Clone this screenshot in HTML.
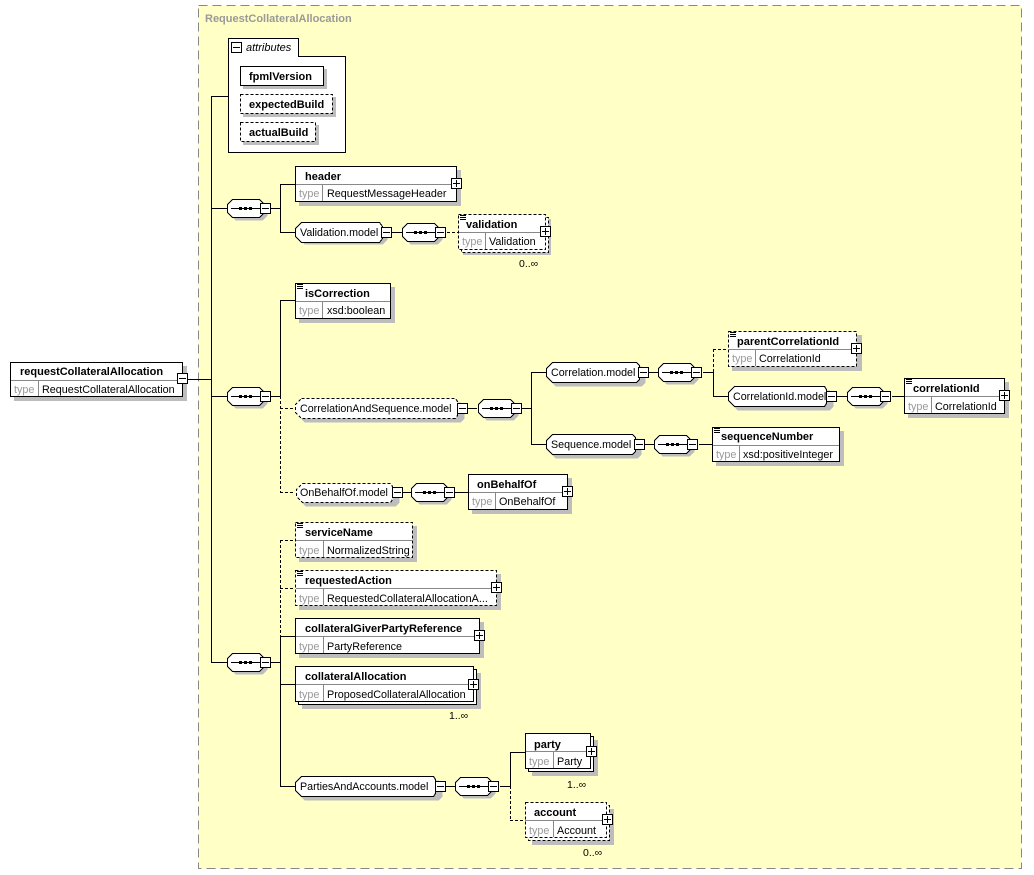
<!DOCTYPE html>
<html><head><meta charset="utf-8"><style>
html,body{margin:0;padding:0;background:#fff;}
svg{display:block;font-family:"Liberation Sans",Arial,sans-serif;}
.sh{fill:#bdbdbd;stroke:none}
.bx{fill:#fff;stroke:#000;stroke-width:1}
.dbx{fill:#fff;stroke:#000;stroke-width:1;stroke-dasharray:3,2}
.ln{stroke:#000;stroke-width:1;fill:none}
.dl{stroke:#000;stroke-width:1;fill:none;stroke-dasharray:3,2}
.nm{font-size:11px;font-weight:bold;fill:#000}
.tp{font-size:10.8px;fill:#999}
.tv{font-size:10.8px;fill:#000}
.md{font-size:10.7px;fill:#000}
.oc{font-size:10.5px;fill:#000}
.dv{stroke:#888;stroke-width:1}
</style></head><body>
<svg width="1034" height="875" viewBox="0 0 1034 875" shape-rendering="crispEdges">
<defs>
<g id="mi"><rect x="0.5" y="0.5" width="10" height="10" fill="#fff" stroke="#000"/><line x1="2" y1="5.5" x2="9" y2="5.5" stroke="#000"/></g>
<g id="pl"><rect x="0.5" y="0.5" width="10" height="10" fill="#fff" stroke="#000"/><line x1="2" y1="5.5" x2="9" y2="5.5" stroke="#000"/><line x1="5.5" y1="2" x2="5.5" y2="9" stroke="#000"/></g>
<g id="seq">
<path d="M9.5,3.5 H36.5 L41.5,8.5 V16.5 L36.5,21.5 H9.5 L4.5,16.5 V8.5 Z" class="sh"/>
<path d="M6.5,0.5 H33.5 L38.5,5.5 V13.5 L33.5,18.5 H6.5 L1.5,13.5 V5.5 Z" fill="#fff" stroke="#000"/>
<line x1="5" y1="9.5" x2="35" y2="9.5" stroke="#000"/>
<rect x="13" y="8" width="3" height="3" fill="#000"/><rect x="18" y="8" width="3" height="3" fill="#000"/><rect x="23" y="8" width="3" height="3" fill="#000"/>
<use href="#mi" x="34" y="4"/>
</g>
<g id="lines"><line x1="1" y1="1.5" x2="7" y2="1.5" stroke="#000"/><line x1="1" y1="3.5" x2="7" y2="3.5" stroke="#000"/><line x1="1" y1="5.5" x2="7" y2="5.5" stroke="#000"/></g>
</defs>

<rect x="198.5" y="5.5" width="823" height="863" fill="#ffffc6" stroke="#888" stroke-dasharray="9,5"/>
<text x="205" y="22" font-size="11" font-weight="bold" fill="#999">RequestCollateralAllocation</text>

<rect class="sh" x="14" y="366" width="173" height="35"/>
<rect class="bx" x="10.5" y="362.5" width="172" height="34"/>
<line class="dv" x1="11" y1="380.5" x2="182" y2="380.5"/>
<line class="dv" x1="38.5" y1="381" x2="38.5" y2="396"/>
<text class="nm" x="20" y="375">requestCollateralAllocation</text>
<text class="tp" x="14" y="393">type</text>
<text class="tv" x="42" y="393">RequestCollateralAllocation</text>
<use href="#mi" x="177" y="373"/>
<line class="ln" x1="188" y1="379.5" x2="211" y2="379.5"/>

<line class="ln" x1="211.5" y1="96" x2="211.5" y2="662"/>
<line class="ln" x1="211" y1="96.5" x2="228" y2="96.5"/>
<line class="ln" x1="211" y1="208.5" x2="228" y2="208.5"/>
<line class="ln" x1="211" y1="396.5" x2="228" y2="396.5"/>
<line class="ln" x1="211" y1="662.5" x2="228" y2="662.5"/>

<rect class="bx" x="228.5" y="38.5" width="70" height="19"/>
<rect class="bx" x="228.5" y="56.5" width="117" height="96"/>
<line x1="229" y1="56.5" x2="298" y2="56.5" stroke="#fff"/>
<use href="#mi" x="231" y="42"/>
<text x="246" y="51" font-size="11" font-style="italic" fill="#000">attributes</text>
<rect class="sh" x="243" y="69" width="84" height="20"/>
<rect class="bx" x="240.5" y="66.5" width="83" height="19"/>
<text class="nm" x="249" y="80">fpmlVersion</text>
<rect class="sh" x="243" y="97" width="93" height="20"/>
<rect class="dbx" x="240.5" y="94.5" width="92" height="19"/>
<text class="nm" x="249" y="108">expectedBuild</text>
<rect class="sh" x="243" y="125" width="76" height="20"/>
<rect class="dbx" x="240.5" y="122.5" width="75" height="19"/>
<text class="nm" x="249" y="136">actualBuild</text>

<use href="#seq" x="226" y="199"/>
<line class="ln" x1="271" y1="208.5" x2="280" y2="208.5"/>
<line class="ln" x1="280.5" y1="184" x2="280.5" y2="233"/>
<line class="ln" x1="280" y1="184.5" x2="295" y2="184.5"/>
<line class="ln" x1="280" y1="232.5" x2="295" y2="232.5"/>
<rect class="sh" x="299" y="170" width="162" height="36"/>
<rect class="bx" x="295.5" y="166.5" width="161" height="35"/>
<line class="dv" x1="296" y1="184.5" x2="456" y2="184.5"/>
<line class="dv" x1="322.5" y1="185" x2="322.5" y2="201"/>
<text class="nm" x="305" y="180">header</text>
<text class="tp" x="299" y="197">type</text>
<text class="tv" x="327" y="197">RequestMessageHeader</text>
<use href="#pl" x="451" y="178"/>
<path d="M304.5,226.5 H382.5 L387.5,231.5 V239.5 L382.5,244.5 H304.5 L299.5,239.5 V231.5 Z" class="sh"/>
<path d="M301.5,222.5 H379.5 L382.5,226.5 V238.5 L379.5,242.5 H301.5 L295.5,236.5 V228.5 Z" fill="#fff" stroke="#000"/>
<text class="md" x="300" y="236">Validation.model</text>
<use href="#mi" x="381" y="227"/>
<line class="ln" x1="392" y1="232.5" x2="402" y2="232.5"/>
<use href="#seq" x="401" y="223"/>
<line class="dl" x1="447" y1="232.5" x2="458" y2="232.5"/>
<rect class="sh" x="463" y="219" width="88" height="36"/>
<rect class="dbx" x="461.5" y="217.5" width="87" height="35"/>
<rect class="dbx" x="458.5" y="214.5" width="87" height="35"/>
<line class="dv" x1="459" y1="232.5" x2="545" y2="232.5"/>
<line class="dv" x1="485.5" y1="233" x2="485.5" y2="249"/>
<use href="#lines" x="459" y="214"/>
<text class="nm" x="466" y="228">validation</text>
<text class="tp" x="462" y="245">type</text>
<text class="tv" x="489" y="245">Validation</text>
<use href="#pl" x="540" y="226"/>
<text class="oc" x="519" y="267">0..∞</text>

<use href="#seq" x="226" y="387"/>
<line class="ln" x1="271" y1="396.5" x2="280" y2="396.5"/>
<line class="ln" x1="280.5" y1="300" x2="280.5" y2="396"/>
<line class="dl" x1="280.5" y1="396" x2="280.5" y2="492"/>
<line class="ln" x1="280" y1="300.5" x2="295" y2="300.5"/>
<line class="dl" x1="280" y1="408.5" x2="295" y2="408.5"/>
<line class="dl" x1="280" y1="492.5" x2="295" y2="492.5"/>
<rect class="sh" x="299" y="287" width="96" height="36"/>
<rect class="bx" x="295.5" y="283.5" width="95" height="35"/>
<line class="dv" x1="296" y1="301.5" x2="390" y2="301.5"/>
<line class="dv" x1="322.5" y1="302" x2="322.5" y2="318"/>
<use href="#lines" x="296" y="283"/>
<text class="nm" x="305" y="297">isCorrection</text>
<text class="tp" x="299" y="314">type</text>
<text class="tv" x="327" y="314">xsd:boolean</text>
<path d="M304.5,402.5 H460.5 L464.5,406.5 V418.5 L460.5,422.5 H304.5 L299.5,417.5 V407.5 Z" class="sh"/>
<path d="M301.5,398.5 H455.5 L457.5,401.5 V415.5 L455.5,418.5 H301.5 L295.5,412.5 V404.5 Z" fill="#fff" stroke="#000" stroke-dasharray="3,2"/>
<text class="md" x="300" y="412">CorrelationAndSequence.model</text>
<use href="#mi" x="457" y="403"/>
<line class="ln" x1="467" y1="408.5" x2="477" y2="408.5"/>
<use href="#seq" x="477" y="399"/>
<line class="ln" x1="522" y1="408.5" x2="531" y2="408.5"/>
<line class="ln" x1="531.5" y1="372" x2="531.5" y2="444"/>
<line class="ln" x1="531" y1="372.5" x2="546" y2="372.5"/>
<line class="ln" x1="531" y1="444.5" x2="546" y2="444.5"/>
<path d="M555.5,366.5 H641.5 L645.5,370.5 V382.5 L641.5,386.5 H555.5 L550.5,381.5 V371.5 Z" class="sh"/>
<path d="M552.5,362.5 H636.5 L639.5,365.5 V379.5 L636.5,382.5 H552.5 L546.5,376.5 V368.5 Z" fill="#fff" stroke="#000"/>
<text class="md" x="551" y="376">Correlation.model</text>
<use href="#mi" x="638" y="367"/>
<line class="ln" x1="648" y1="372.5" x2="659" y2="372.5"/>
<use href="#seq" x="657" y="363"/>
<line class="ln" x1="703" y1="372.5" x2="713" y2="372.5"/>
<line class="dl" x1="713.5" y1="349" x2="713.5" y2="372"/>
<line class="ln" x1="713.5" y1="372" x2="713.5" y2="396"/>
<line class="dl" x1="713" y1="349.5" x2="728" y2="349.5"/>
<line class="ln" x1="713" y1="396.5" x2="728" y2="396.5"/>
<rect class="sh" x="732" y="335" width="130" height="36"/>
<rect class="dbx" x="728.5" y="331.5" width="128" height="35"/>
<line class="dv" x1="729" y1="349.5" x2="856" y2="349.5"/>
<line class="dv" x1="755.5" y1="350" x2="755.5" y2="366"/>
<use href="#lines" x="729" y="331"/>
<text class="nm" x="737" y="345">parentCorrelationId</text>
<text class="tp" x="732" y="362">type</text>
<text class="tv" x="759" y="362">CorrelationId</text>
<use href="#pl" x="851" y="343"/>
<path d="M737.5,390.5 H829.5 L833.5,394.5 V406.5 L829.5,410.5 H737.5 L732.5,405.5 V395.5 Z" class="sh"/>
<path d="M734.5,386.5 H824.5 L826.5,389.5 V403.5 L824.5,406.5 H734.5 L728.5,400.5 V392.5 Z" fill="#fff" stroke="#000"/>
<text class="md" x="733" y="400">CorrelationId.model</text>
<use href="#mi" x="826" y="391"/>
<line class="ln" x1="836" y1="396.5" x2="848" y2="396.5"/>
<use href="#seq" x="846" y="387"/>
<line class="ln" x1="892" y1="396.5" x2="904" y2="396.5"/>
<rect class="sh" x="908" y="382" width="101" height="36"/>
<rect class="bx" x="904.5" y="378.5" width="100" height="35"/>
<line class="dv" x1="905" y1="396.5" x2="1004" y2="396.5"/>
<line class="dv" x1="931.5" y1="397" x2="931.5" y2="413"/>
<use href="#lines" x="905" y="378"/>
<text class="nm" x="913" y="392">correlationId</text>
<text class="tp" x="908" y="410">type</text>
<text class="tv" x="935" y="410">CorrelationId</text>
<use href="#pl" x="999" y="390"/>
<path d="M555.5,438.5 H637.5 L641.5,442.5 V454.5 L637.5,458.5 H555.5 L550.5,453.5 V443.5 Z" class="sh"/>
<path d="M552.5,434.5 H632.5 L635.5,437.5 V451.5 L632.5,454.5 H552.5 L546.5,448.5 V440.5 Z" fill="#fff" stroke="#000"/>
<text class="md" x="551" y="448">Sequence.model</text>
<use href="#mi" x="634" y="439"/>
<line class="ln" x1="644" y1="444.5" x2="655" y2="444.5"/>
<use href="#seq" x="653" y="435"/>
<line class="ln" x1="699" y1="444.5" x2="712" y2="444.5"/>
<rect class="sh" x="716" y="431" width="128" height="35"/>
<rect class="bx" x="712.5" y="427.5" width="127" height="34"/>
<line class="dv" x1="713" y1="445.5" x2="839" y2="445.5"/>
<line class="dv" x1="739.5" y1="446" x2="739.5" y2="461"/>
<use href="#lines" x="713" y="427"/>
<text class="nm" x="721" y="440">sequenceNumber</text>
<text class="tp" x="716" y="458">type</text>
<text class="tv" x="743" y="458">xsd:positiveInteger</text>
<path d="M305.5,487.5 H395.5 L399.5,491.5 V502.5 L395.5,506.5 H305.5 L300.5,501.5 V491.5 Z" class="sh"/>
<path d="M302.5,483.5 H390.5 L392.5,486.5 V499.5 L390.5,502.5 H302.5 L296.5,496.5 V489.5 Z" fill="#fff" stroke="#000" stroke-dasharray="3,2"/>
<text class="md" x="300" y="496">OnBehalfOf.model</text>
<use href="#mi" x="392" y="487"/>
<line class="ln" x1="402" y1="492.5" x2="413" y2="492.5"/>
<use href="#seq" x="410" y="483"/>
<line class="ln" x1="455" y1="492.5" x2="469" y2="492.5"/>
<rect class="sh" x="472" y="478" width="100" height="36"/>
<rect class="bx" x="468.5" y="474.5" width="99" height="35"/>
<line class="dv" x1="469" y1="492.5" x2="567" y2="492.5"/>
<line class="dv" x1="495.5" y1="493" x2="495.5" y2="509"/>
<text class="nm" x="477" y="488">onBehalfOf</text>
<text class="tp" x="472" y="505">type</text>
<text class="tv" x="499" y="505">OnBehalfOf</text>
<use href="#pl" x="562" y="486"/>

<use href="#seq" x="226" y="653"/>
<line class="ln" x1="271" y1="662.5" x2="280" y2="662.5"/>
<line class="dl" x1="280.5" y1="540" x2="280.5" y2="636"/>
<line class="ln" x1="280.5" y1="636" x2="280.5" y2="786"/>
<line class="dl" x1="280" y1="540.5" x2="295" y2="540.5"/>
<line class="dl" x1="280" y1="588.5" x2="295" y2="588.5"/>
<line class="ln" x1="280" y1="636.5" x2="295" y2="636.5"/>
<line class="ln" x1="280" y1="684.5" x2="295" y2="684.5"/>
<line class="ln" x1="280" y1="786.5" x2="295" y2="786.5"/>
<rect class="sh" x="299" y="526" width="118" height="36"/>
<rect class="dbx" x="295.5" y="522.5" width="117" height="35"/>
<line class="dv" x1="296" y1="540.5" x2="412" y2="540.5"/>
<line class="dv" x1="323.5" y1="541" x2="323.5" y2="557"/>
<use href="#lines" x="296" y="522"/>
<text class="nm" x="305" y="536">serviceName</text>
<text class="tp" x="299" y="554">type</text>
<text class="tv" x="327" y="554">NormalizedString</text>
<rect class="sh" x="299" y="574" width="202" height="36"/>
<rect class="dbx" x="295.5" y="570.5" width="201" height="35"/>
<line class="dv" x1="296" y1="588.5" x2="496" y2="588.5"/>
<line class="dv" x1="323.5" y1="589" x2="323.5" y2="605"/>
<use href="#lines" x="296" y="570"/>
<text class="nm" x="305" y="584">requestedAction</text>
<text class="tp" x="299" y="602">type</text>
<text class="tv" x="327" y="602">RequestedCollateralAllocationA...</text>
<use href="#pl" x="491" y="582"/>
<rect class="sh" x="299" y="622" width="185" height="36"/>
<rect class="bx" x="295.5" y="618.5" width="184" height="35"/>
<line class="dv" x1="296" y1="636.5" x2="479" y2="636.5"/>
<line class="dv" x1="323.5" y1="637" x2="323.5" y2="653"/>
<text class="nm" x="305" y="632">collateralGiverPartyReference</text>
<text class="tp" x="299" y="650">type</text>
<text class="tv" x="327" y="650">PartyReference</text>
<use href="#pl" x="474" y="630"/>
<rect class="sh" x="302" y="673" width="179" height="36"/>
<rect class="bx" x="298.5" y="669.5" width="178" height="35"/>
<rect class="bx" x="295.5" y="666.5" width="178" height="35"/>
<line class="dv" x1="296" y1="684.5" x2="473" y2="684.5"/>
<line class="dv" x1="323.5" y1="685" x2="323.5" y2="701"/>
<text class="nm" x="305" y="680">collateralAllocation</text>
<text class="tp" x="299" y="698">type</text>
<text class="tv" x="327" y="698">ProposedCollateralAllocation</text>
<use href="#pl" x="468" y="679"/>
<text class="oc" x="449" y="719">1..∞</text>
<path d="M304.5,780.5 H438.5 L442.5,784.5 V796.5 L438.5,800.5 H304.5 L299.5,795.5 V785.5 Z" class="sh"/>
<path d="M301.5,776.5 H433.5 L435.5,779.5 V793.5 L433.5,796.5 H301.5 L295.5,790.5 V782.5 Z" fill="#fff" stroke="#000"/>
<text class="md" x="300" y="790">PartiesAndAccounts.model</text>
<use href="#mi" x="435" y="781"/>
<line class="ln" x1="445" y1="786.5" x2="456" y2="786.5"/>
<use href="#seq" x="454" y="777"/>
<line class="ln" x1="500" y1="786.5" x2="510" y2="786.5"/>
<line class="ln" x1="510.5" y1="752" x2="510.5" y2="786"/>
<line class="dl" x1="510.5" y1="786" x2="510.5" y2="820"/>
<line class="ln" x1="510" y1="752.5" x2="526" y2="752.5"/>
<line class="dl" x1="510" y1="820.5" x2="526" y2="820.5"/>
<rect class="sh" x="532" y="740" width="66" height="36"/>
<rect class="bx" x="528.5" y="736.5" width="65" height="35"/>
<rect class="bx" x="525.5" y="733.5" width="65" height="35"/>
<line class="dv" x1="526" y1="751.5" x2="590" y2="751.5"/>
<line class="dv" x1="553.5" y1="752" x2="553.5" y2="768"/>
<text class="nm" x="534" y="748">party</text>
<text class="tp" x="529" y="765">type</text>
<text class="tv" x="557" y="765">Party</text>
<use href="#pl" x="586" y="746"/>
<text class="oc" x="567" y="788">1..∞</text>
<rect class="sh" x="532" y="809" width="82" height="36"/>
<rect class="dbx" x="528.5" y="805.5" width="81" height="35"/>
<rect class="dbx" x="525.5" y="802.5" width="81" height="35"/>
<line class="dv" x1="526" y1="820.5" x2="606" y2="820.5"/>
<line class="dv" x1="553.5" y1="821" x2="553.5" y2="837"/>
<text class="nm" x="534" y="816">account</text>
<text class="tp" x="529" y="834">type</text>
<text class="tv" x="557" y="834">Account</text>
<use href="#pl" x="602" y="814"/>
<text class="oc" x="583" y="856">0..∞</text>
</svg>
</body></html>
